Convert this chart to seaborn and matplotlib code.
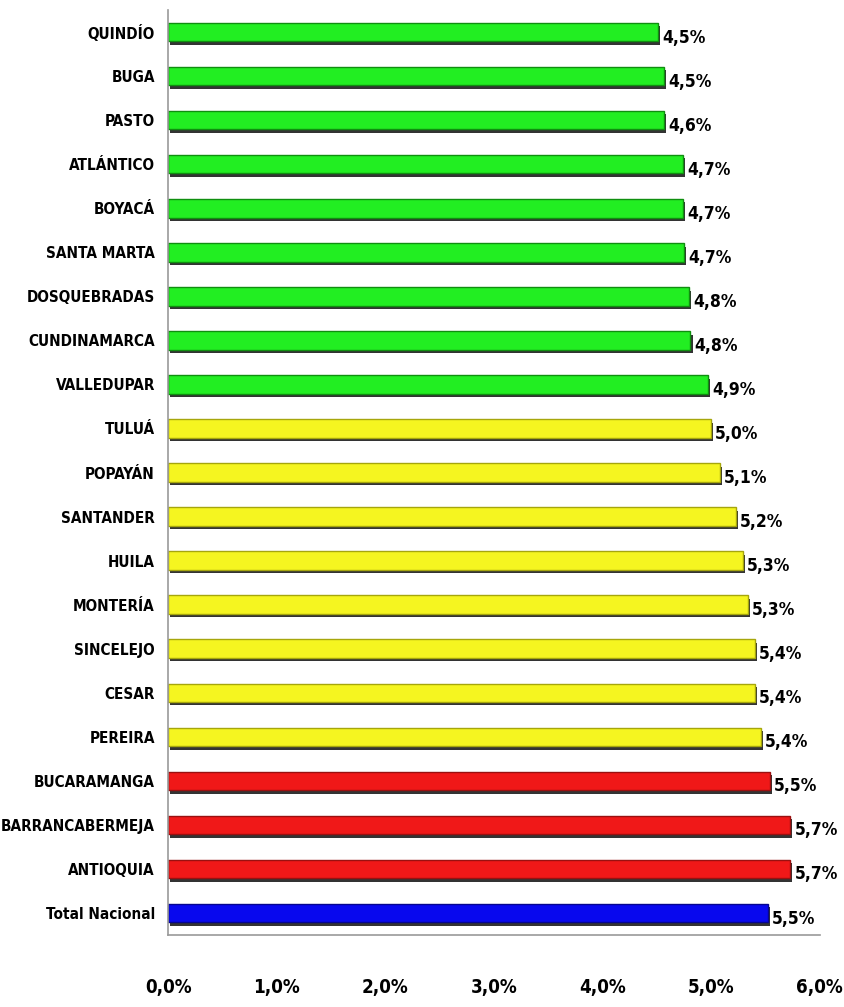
import seaborn as sns
import matplotlib.pyplot as plt
import matplotlib.patheffects as pe
from matplotlib.ticker import FuncFormatter, FixedLocator
import pandas as pd

# data, top to bottom
regiones = ["QUINDÍO", "BUGA", "PASTO", "ATLÁNTICO", "BOYACÁ", "SANTA MARTA",
            "DOSQUEBRADAS", "CUNDINAMARCA", "VALLEDUPAR", "TULUÁ", "POPAYÁN",
            "SANTANDER", "HUILA", "MONTERÍA", "SINCELEJO", "CESAR", "PEREIRA",
            "BUCARAMANGA", "BARRANCABERMEJA", "ANTIOQUIA", "Total Nacional"]
valores = [4.51, 4.57, 4.57, 4.74, 4.74, 4.75, 4.80, 4.81, 4.97, 5.00, 5.08,
           5.23, 5.29, 5.34, 5.40, 5.40, 5.46, 5.54, 5.73, 5.73, 5.52]
etiquetas = ["4,5%", "4,5%", "4,6%", "4,7%", "4,7%", "4,7%", "4,8%", "4,8%",
             "4,9%", "5,0%", "5,1%", "5,2%", "5,3%", "5,3%", "5,4%", "5,4%",
             "5,4%", "5,5%", "5,7%", "5,7%", "5,5%"]
grupo = ["verde"] * 9 + ["amarillo"] * 8 + ["rojo"] * 3 + ["nacional"]
colores = {"verde": "#22ee22", "amarillo": "#f5f520", "rojo": "#f01818", "nacional": "#0808ee"}
bordes = {"verde": "#0f8f0f", "amarillo": "#a6a60c", "rojo": "#9a1010", "nacional": "#05058f"}

df = pd.DataFrame({"region": regiones, "valor": valores, "grupo": grupo})

sns.set_style("white")
plt.rcParams["font.family"] = ["DejaVu Sans"]
plt.rcParams["font.stretch"] = "condensed"
plt.rcParams["font.weight"] = "bold"

fig = plt.figure(figsize=(8.45, 10.07), dpi=100)
ax = fig.add_axes([0.199, 0.0715, 0.771, 0.9185])

sns.barplot(data=df, x="valor", y="region", hue="grupo", palette=colores,
            saturation=1, dodge=False, legend=False, width=0.42, ax=ax)

for bar in ax.patches:
    if bar.get_width() == 0:
        continue
    fc = bar.get_facecolor()
    for g, c in colores.items():
        if abs(fc[0] - int(c[1:3], 16) / 255) < 0.01 and abs(fc[2] - int(c[5:7], 16) / 255) < 0.01:
            bar.set_edgecolor(bordes[g])
    bar.set_linewidth(1.0)
    bar.set_path_effects([pe.SimplePatchShadow(offset=(1.5, -2.5), shadow_rgbFace="black", alpha=0.8),
                          pe.Normal()])

for i, (v, t) in enumerate(zip(valores, etiquetas)):
    ax.annotate(t, xy=(v, i), xytext=(3, -4), textcoords="offset points",
                va="center", ha="left", fontsize=12.5, fontweight="bold", color="black")

ax.set_xlim(0, 6)
ax.set_ylim(len(regiones) - 0.5, -0.5)
ax.xaxis.set_major_locator(FixedLocator([0, 1, 2, 3, 4, 5, 6]))
ax.xaxis.set_major_formatter(FuncFormatter(lambda x, p: f"{x:.1f}%".replace(".", ",")))
ax.set_xlabel("")
ax.set_ylabel("")

ax.yaxis.set_minor_locator(FixedLocator([i - 0.5 for i in range(len(regiones) + 1)]))
ax.tick_params(axis="y", which="major", length=0, pad=9.5, labelsize=11, labelcolor="black")
ax.tick_params(axis="y", which="minor", length=6, width=1.2, color="#888888", direction="out")
ax.tick_params(axis="x", which="major", length=12, width=1.2, color="#aaaaaa",
               direction="out", pad=19, labelsize=13.5, labelcolor="black")
for lbl in ax.get_xticklabels() + ax.get_yticklabels():
    lbl.set_fontweight("bold")

for s in ["top", "right"]:
    ax.spines[s].set_visible(False)
for s in ["left", "bottom"]:
    ax.spines[s].set_color("#999999")
    ax.spines[s].set_linewidth(1.2)

fig.savefig("out.png", dpi=100)
